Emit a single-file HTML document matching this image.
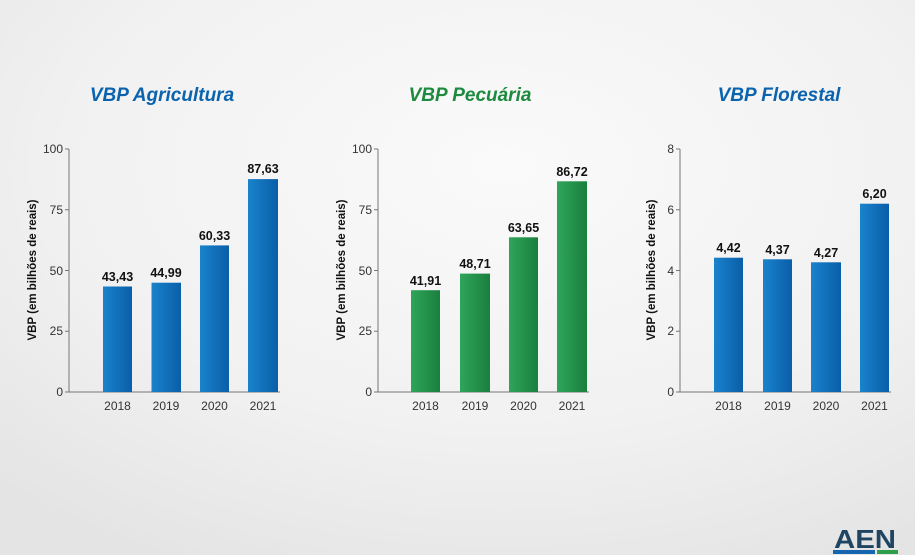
<!DOCTYPE html>
<html><head><meta charset="utf-8"><style>
html,body{margin:0;padding:0;width:915px;height:555px;overflow:hidden}
text{font-family:"Liberation Sans",sans-serif}
</style></head><body>
<svg width="915" height="555" viewBox="0 0 915 555" xmlns="http://www.w3.org/2000/svg">
<defs>
<radialGradient id="bg" cx="0.55" cy="0.3" r="0.8">
<stop offset="0" stop-color="#fafafa"/><stop offset="0.6" stop-color="#f1f1f1"/><stop offset="1" stop-color="#e4e4e4"/>
</radialGradient>
<linearGradient id="gb" x1="0" x2="1"><stop offset="0" stop-color="#1a82cc"/><stop offset="1" stop-color="#0a5ea8"/></linearGradient>
<linearGradient id="gg" x1="0" x2="1"><stop offset="0" stop-color="#2fa55a"/><stop offset="1" stop-color="#1a7f3e"/></linearGradient>
</defs>
<rect width="915" height="555" fill="url(#bg)"/>
<g font-size="19" font-weight="bold" font-style="italic" text-anchor="middle">
<text x="162" y="101" fill="#0b63ae">VBP Agricultura</text>
<text x="470" y="101" fill="#1d8a3f">VBP Pecuária</text>
<text x="779" y="101" fill="#0b63ae">VBP Florestal</text>
</g>
<g font-size="11.5" font-weight="bold" fill="#111" text-anchor="middle">
<text transform="translate(36,270) rotate(-90)">VBP (em bilhões de reais)</text>
<text transform="translate(345,270) rotate(-90)">VBP (em bilhões de reais)</text>
<text transform="translate(655,270) rotate(-90)">VBP (em bilhões de reais)</text>
</g>
<g stroke="#777" stroke-width="1" fill="none">
<path d="M69,149V392H280M65,149H69M65,209.75H69M65,270.5H69M65,331.25H69M65,392H69"/>
<path d="M378,149V392H589M374,149H378M374,209.75H378M374,270.5H378M374,331.25H378M374,392H378"/>
<path d="M680,149V392H891M676,149H680M676,209.75H680M676,270.5H680M676,331.25H680M676,392H680"/>
</g>
<g font-size="12" fill="#333" text-anchor="end">
<text x="63" y="153">100</text><text x="63" y="214">75</text><text x="63" y="275">50</text><text x="63" y="335">25</text><text x="63" y="396">0</text>
<text x="372" y="153">100</text><text x="372" y="214">75</text><text x="372" y="275">50</text><text x="372" y="335">25</text><text x="372" y="396">0</text>
<text x="674" y="153">8</text><text x="674" y="214">6</text><text x="674" y="275">4</text><text x="674" y="335">2</text><text x="674" y="396">0</text>
</g>
<g fill="url(#gb)">
<rect x="103" y="286.5" width="29" height="105.5"/><rect x="151.5" y="282.7" width="29.5" height="109.3"/>
<rect x="200" y="245.4" width="29" height="146.6"/><rect x="248" y="179.1" width="30" height="212.9"/>
<rect x="714" y="257.7" width="29" height="134.3"/><rect x="763" y="259.3" width="29" height="132.7"/>
<rect x="811" y="262.3" width="30" height="129.7"/><rect x="860" y="203.7" width="29" height="188.3"/>
</g>
<g fill="url(#gg)">
<rect x="411" y="290.2" width="29" height="101.8"/><rect x="460" y="273.6" width="30" height="118.4"/>
<rect x="509" y="237.3" width="29" height="154.7"/><rect x="557" y="181.3" width="30" height="210.7"/>
</g>
<g font-size="12.5" font-weight="bold" fill="#111" text-anchor="middle">
<text x="117.5" y="281">43,43</text><text x="166" y="277">44,99</text><text x="214.5" y="240">60,33</text><text x="263" y="173">87,63</text>
<text x="425.5" y="285">41,91</text><text x="475" y="268">48,71</text><text x="523.5" y="232">63,65</text><text x="572" y="176">86,72</text>
<text x="728.5" y="252">4,42</text><text x="777.5" y="254">4,37</text><text x="826" y="257">4,27</text><text x="874.5" y="198">6,20</text>
</g>
<g font-size="12" fill="#333" text-anchor="middle">
<text x="117.5" y="410">2018</text><text x="166" y="410">2019</text><text x="214.5" y="410">2020</text><text x="263" y="410">2021</text>
<text x="425.5" y="410">2018</text><text x="475" y="410">2019</text><text x="523.5" y="410">2020</text><text x="572" y="410">2021</text>
<text x="728.5" y="410">2018</text><text x="777.5" y="410">2019</text><text x="826" y="410">2020</text><text x="874.5" y="410">2021</text>
</g>
<text x="865" y="548" font-size="26" font-weight="bold" fill="#1f4563" text-anchor="middle" textLength="62" lengthAdjust="spacingAndGlyphs">AEN</text>
<rect x="833" y="550" width="42" height="4" fill="#1565b0"/>
<rect x="877" y="550" width="21" height="4" fill="#2e9e4a"/>
</svg>
</body></html>
